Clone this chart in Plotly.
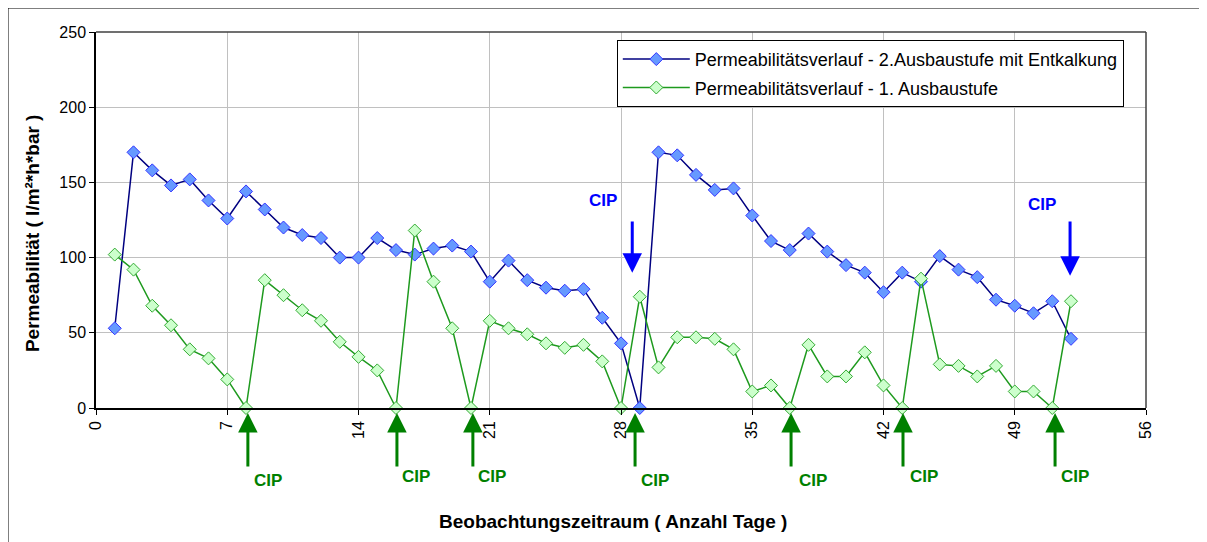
import plotly.graph_objects as go

days = list(range(1, 53))

blue_vals = [53, 170, 158, 148, 152, 138, 126, 144, 132, 120,
             115, 113, 100, 100, 113, 105, 102, 106, 108, 104,
             84, 98, 85, 80, 78, 79, 60, 43, 0, 170,
             168, 155, 145, 146, 128, 111, 105, 116, 104, 95,
             90, 77, 90, 84, 101, 92, 87, 72, 68, 63,
             71, 46]

green_vals = [102, 92, 68, 55, 39, 33, 19, 0, 85, 75,
              65, 58, 44, 34, 25, 0, 118, 84, 53, 0,
              58, 53, 49, 43, 40, 42, 31, 0, 74, 27,
              47, 47, 46, 39, 11, 15, 0, 42, 21, 21,
              37, 15, 0, 86, 29, 28, 21, 28, 11, 11,
              0, 71]

blue_name = "Permeabilitätsverlauf - 2.Ausbaustufe mit Entkalkung"
green_name = "Permeabilitätsverlauf - 1. Ausbaustufe"
x_title = "Beobachtungszeitraum ( Anzahl Tage )"
y_title = "Permeabilität ( l/m²*h*bar )"

x_ticks = [0, 7, 14, 21, 28, 35, 42, 49, 56]
y_ticks = [0, 50, 100, 150, 200, 250]

# CIP markers (green, below the x axis)
green_cip_days = [8.1, 16.05, 20.1, 28.75, 37.07, 43.04, 51.15]
green_cip_label_x = [9.17, 17.07, 21.12, 29.81, 38.24, 44.16, 52.21]
green_cip_label_y = [-0.1915, -0.1835, -0.1809, -0.1915, -0.1915, -0.1809, -0.1809]  # paper

# CIP markers (blue, above the curves)
blue_cip_days = [28.6, 51.95]
blue_cip_head = [90, 88]
blue_cip_tail = [125, 125]
blue_cip_label_x = [27.05, 50.45]
blue_cip_label_y = [138, 135]

FONT = "Liberation Sans, Arial, sans-serif"
GREEN = "#008000"
BLUE = "#0000FF"

fig = go.Figure()
fig.add_trace(go.Scatter(
    x=days, y=blue_vals, name=blue_name, mode="lines+markers",
    line=dict(color="#000080", width=1.5),
    marker=dict(symbol="diamond", size=10, color="#6699FF",
                line=dict(color="#3333FF", width=1)),
    legendgroup="a", cliponaxis=False,
))
fig.add_trace(go.Scatter(
    x=days, y=green_vals, name=green_name, mode="lines+markers",
    line=dict(color="#1E9A1E", width=1.5),
    marker=dict(symbol="diamond", size=10, color="#CCFFCC",
                line=dict(color="#33AA33", width=1)),
    legendgroup="b", cliponaxis=False,
))

annotations = []
for d in green_cip_days:
    annotations.append(dict(
        x=d, y=-0.0133, xref="x", yref="paper", ax=0, ay=55,
        text="", showarrow=True, arrowhead=2, arrowsize=1.3, arrowwidth=3,
        arrowcolor=GREEN, standoff=0,
    ))
for lx, ly in zip(green_cip_label_x, green_cip_label_y):
    annotations.append(dict(
        x=lx, y=ly, xref="x", yref="paper", xanchor="center", yanchor="middle",
        text="<b>CIP</b>", showarrow=False,
        font=dict(family=FONT, size=17, color=GREEN),
    ))
for d, h, t in zip(blue_cip_days, blue_cip_head, blue_cip_tail):
    annotations.append(dict(
        x=d, y=h, ax=d, ay=t, xref="x", yref="y", axref="x", ayref="y",
        text="", showarrow=True, arrowhead=2, arrowsize=1.3, arrowwidth=3,
        arrowcolor=BLUE, standoff=0,
    ))
for lx, ly in zip(blue_cip_label_x, blue_cip_label_y):
    annotations.append(dict(
        x=lx, y=ly, xref="x", yref="y", xanchor="center", yanchor="middle",
        text="<b>CIP</b>", showarrow=False,
        font=dict(family=FONT, size=17, color=BLUE),
    ))
# axis titles
annotations.append(dict(
    x=0.492, y=-0.301, xref="paper", yref="paper", xanchor="center", yanchor="middle",
    text="<b>" + x_title + "</b>",
    showarrow=False, font=dict(family=FONT, size=19, color="black"),
))
annotations.append(dict(
    x=-0.061, y=0.465, xref="paper", yref="paper", xanchor="center", yanchor="middle",
    text="<b>" + y_title + "</b>",
    showarrow=False, textangle=-90, font=dict(family=FONT, size=19, color="black"),
))

fig.update_layout(
    width=1207, height=542,
    margin=dict(l=88, r=69, t=24, b=142, autoexpand=False),
    paper_bgcolor="white", plot_bgcolor="white",
    font=dict(family=FONT, size=16, color="black"),
    showlegend=True,
    legend=dict(
        x=0.496, y=0.979, xanchor="left", yanchor="top",
        bgcolor="white", bordercolor="black", borderwidth=1,
        font=dict(family=FONT, size=18, color="black"),
        tracegroupgap=2, itemwidth=67,
    ),
    annotations=annotations,
    shapes=[dict(type="rect", xref="paper", yref="paper",
                 x0=-0.0838, x1=1.0562, y0=-0.40, y1=1.0638,
                 line=dict(color="black", width=1), layer="below")],
)
fig.update_xaxes(
    range=[0, 56], tickvals=x_ticks, ticktext=[str(v) for v in x_ticks],
    tickangle=-90, ticks="outside", ticklen=5, tickcolor="black",
    showgrid=True, gridcolor="#C0C0C0", gridwidth=1,
    showline=True, linecolor="black", linewidth=1.5, mirror=False,
    zeroline=False, automargin=False,
    tickfont=dict(family=FONT, size=16),
)
fig.update_yaxes(
    range=[0, 250], tickvals=y_ticks, ticks="outside", ticklen=5, tickcolor="black",
    showgrid=True, gridcolor="#C0C0C0", gridwidth=1,
    showline=True, linecolor="black", linewidth=1.5, mirror=False,
    zeroline=False, automargin=False,
    tickfont=dict(family=FONT, size=16),
)
# plot-area frame on right and top
fig.add_shape(type="line", xref="paper", yref="paper", x0=1, x1=1, y0=0, y1=1,
              line=dict(color="#404040", width=1.5))
fig.add_shape(type="line", xref="paper", yref="paper", x0=0, x1=1, y0=1, y1=1,
              line=dict(color="#404040", width=1.5))

fig.write_html("out.html")
